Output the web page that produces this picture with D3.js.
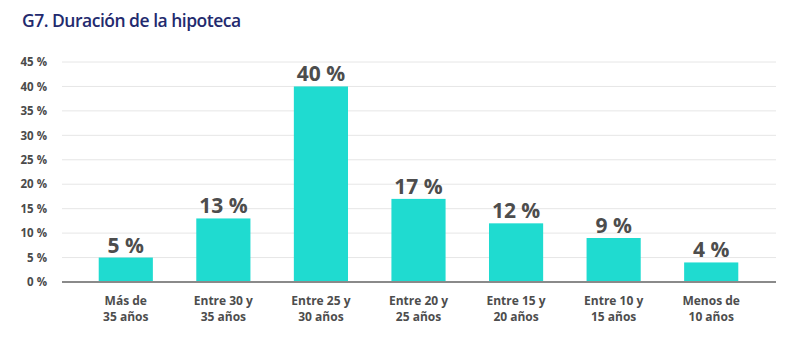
<!DOCTYPE html>
<html>
<head>
<meta charset="utf-8">
<script src="https://cdn.jsdelivr.net/npm/d3@7"></script>
<style>
  body { margin: 0; background: #fff; }
  svg { display: block; }
</style>
</head>
<body>
<svg id="chart" width="795" height="339"></svg>
<script>
// Mortgage term distribution
const categories = [
  ["Más de", "35 años"],
  ["Entre 30 y", "35 años"],
  ["Entre 25 y", "30 años"],
  ["Entre 20 y", "25 años"],
  ["Entre 15 y", "20 años"],
  ["Entre 10 y", "15 años"],
  ["Menos de", "10 años"]
];
const values = [5, 13, 40, 17, 12, 9, 4];
const yTicks = [0, 5, 10, 15, 20, 25, 30, 35, 40, 45];
const title = "G7. Duración de la hipoteca";

const svg = d3.select("#chart");
const font = "'Open Sans', 'Noto Sans', sans-serif";

svg.append("text")
  .attr("x", 22).attr("y", 27)
  .attr("font-family", font)
  .attr("font-size", 17.5)
  .attr("font-weight", 600)
  .attr("fill", "#232a6e")
  .attr("letter-spacing", -0.5)
  .text(title);

const x = d3.scaleBand()
  .domain(d3.range(categories.length))
  .range([77, 760])
  .paddingInner(0.445)
  .paddingOuter(0.2225);

const y = d3.scaleLinear().domain([0, 45]).range([282, 62]);

// Horizontal gridlines
svg.append("g")
  .selectAll("line")
  .data(yTicks.filter(d => d > 0))
  .join("line")
  .attr("x1", 62).attr("x2", 776)
  .attr("y1", d => y(d)).attr("y2", d => y(d))
  .attr("stroke", "#e6e6e6")
  .attr("stroke-width", 1);

// Y axis labels
const yAxis = d3.axisLeft(y)
  .tickValues(yTicks)
  .tickSize(0)
  .tickPadding(0)
  .tickFormat(d => d + " %");
const yg = svg.append("g")
  .attr("transform", "translate(47,0)")
  .call(yAxis);
yg.select(".domain").remove();
yg.selectAll("text")
  .attr("font-family", font)
  .attr("font-size", 11.5)
  .attr("font-weight", 700)
  .attr("fill", "#4a4a4a");

// Bars
svg.append("g")
  .selectAll("rect")
  .data(values)
  .join("rect")
  .attr("x", (d, i) => x(i))
  .attr("width", x.bandwidth())
  .attr("y", d => y(d))
  .attr("height", d => y(0) - y(d))
  .attr("fill", "#1fdbd0");

// Baseline
svg.append("line")
  .attr("x1", 62).attr("x2", 776)
  .attr("y1", y(0)).attr("y2", y(0))
  .attr("stroke", "#8a8a8a")
  .attr("stroke-width", 2);

// Value labels
svg.append("g")
  .selectAll("text")
  .data(values)
  .join("text")
  .attr("x", (d, i) => x(i) + x.bandwidth() / 2)
  .attr("y", d => y(d) - 5)
  .attr("text-anchor", "middle")
  .attr("font-family", font)
  .attr("font-size", 21)
  .attr("font-weight", 700)
  .attr("fill", "#4d4d4d")
  .text(d => d + " %");

// Category labels (two lines)
const cat = svg.append("g")
  .selectAll("text")
  .data(categories)
  .join("text")
  .attr("x", (d, i) => x(i) + x.bandwidth() / 2)
  .attr("y", 305)
  .attr("text-anchor", "middle")
  .attr("font-family", font)
  .attr("font-size", 12)
  .attr("font-weight", 700)
  .attr("fill", "#4d4d4d");
cat.selectAll("tspan")
  .data(d => d)
  .join("tspan")
  .attr("x", function () { return d3.select(this.parentNode).attr("x"); })
  .attr("dy", (d, i) => i === 0 ? 0 : 16)
  .text(d => d);
</script>
</body>
</html>
